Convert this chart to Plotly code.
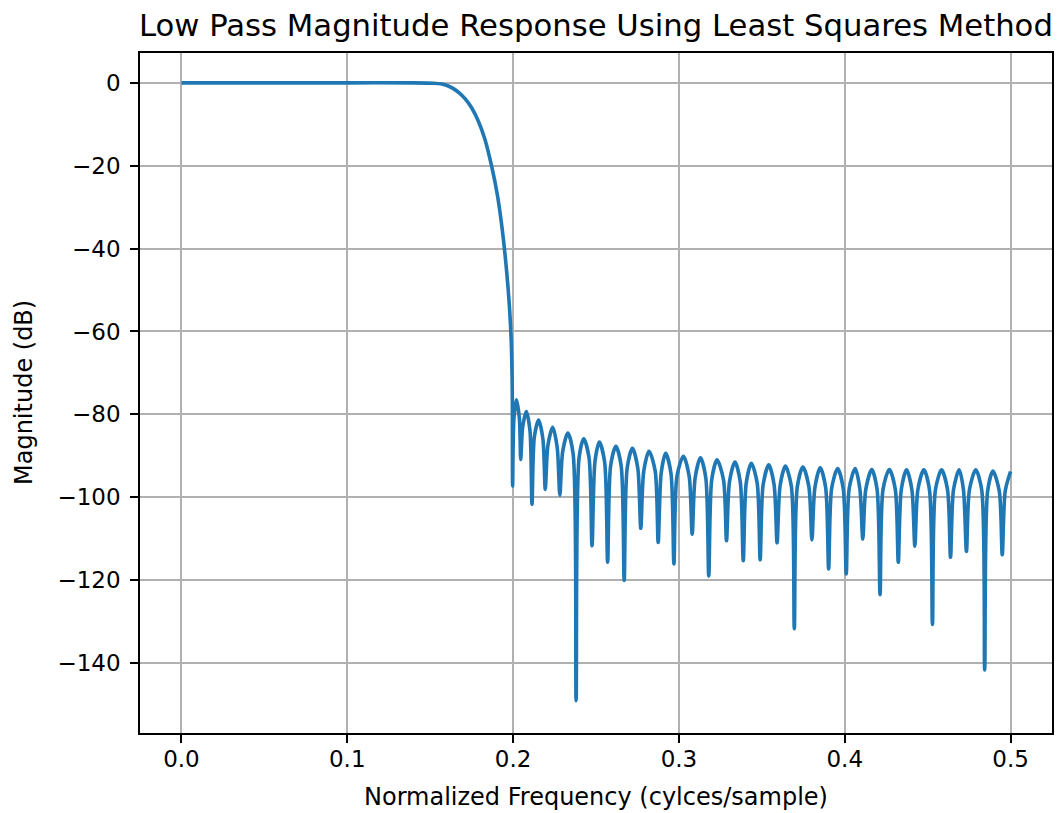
import plotly.graph_objects as go

# Passband and transition band of the low-pass response
pass_freq = [0.0, 0.05, 0.1, 0.14, 0.152, 0.157, 0.1605, 0.164, 0.1675,
             0.171, 0.175, 0.179, 0.183, 0.187, 0.1905, 0.1935, 0.196,
             0.1978, 0.1989, 0.1995]
pass_db = [0.0, 0.0, 0.0, 0.0, -0.1, -0.3, -0.7, -1.4, -2.4,
           -3.8, -6.0, -9.2, -13.6, -20.0, -27.0, -35.5, -45.0,
           -54.0, -62.5, -74.0]

# Stopband nulls
null_freq = [0.1997, 0.2046, 0.2114, 0.2194, 0.2282, 0.238, 0.2476, 0.257,
             0.267, 0.277, 0.2875, 0.297, 0.308, 0.318, 0.3287, 0.3388,
             0.349, 0.3592, 0.3696, 0.3802, 0.3903, 0.4009, 0.4109, 0.4213,
             0.4323, 0.4423, 0.4529, 0.4638, 0.4734, 0.4844, 0.495]
null_db = [-97.3, -90.9, -101.7, -98.1, -99.5, -149.1, -111.7, -115.7,
           -120.1, -107.5, -110.9, -116.1, -108.9, -119.0, -110.5, -115.3,
           -115.1, -111.0, -131.7, -110.3, -117.3, -118.5, -110.1, -123.5,
           -115.7, -111.8, -130.7, -114.5, -113.1, -141.7, -113.9]

# Sidelobe peaks (one between each pair of nulls, plus the edge at 0.5)
peak_freq = [0.202, 0.208, 0.2154, 0.2239, 0.233, 0.2426, 0.252, 0.262,
             0.272, 0.282, 0.292, 0.3027, 0.313, 0.323, 0.3338, 0.3437,
             0.3542, 0.3642, 0.3748, 0.3852, 0.3957, 0.4063, 0.4163, 0.4269,
             0.4373, 0.4477, 0.4584, 0.469, 0.479, 0.4894, 0.5]
peak_db = [-76.5, -79.3, -81.4, -83.1, -84.5, -85.9, -86.7, -87.7,
           -88.2, -88.9, -89.4, -90.1, -90.5, -91.0, -91.5, -91.8,
           -92.2, -92.5, -92.7, -92.9, -93.1, -93.1, -93.3, -93.3,
           -93.4, -93.4, -93.4, -93.4, -93.4, -93.7, -93.8]

# Lobe shoulders: rising edge just after each null, falling edge just before the next
rise_freq = [0.2005, 0.2058, 0.2128, 0.221, 0.2299, 0.2398, 0.2494, 0.2588,
             0.2688, 0.2788, 0.2893, 0.2988, 0.3098, 0.3198, 0.3305, 0.3406,
             0.3508, 0.361, 0.3714, 0.382, 0.3921, 0.4027, 0.4127, 0.4231,
             0.4341, 0.4441, 0.4547, 0.4656, 0.4752, 0.4862, 0.4968]
rise_db = [-81.0, -83.0, -85.5, -87.5, -89.0, -90.5, -91.3, -92.5,
           -93.0, -93.7, -94.2, -95.0, -95.3, -95.8, -96.3, -96.6,
           -97.0, -97.3, -97.5, -97.7, -97.9, -97.9, -98.1, -98.1,
           -98.2, -98.2, -98.2, -98.2, -98.2, -98.5, -98.5]
fall_freq = [0.2038, 0.2102, 0.218, 0.2266, 0.2362, 0.2458, 0.2552, 0.2652,
             0.2752, 0.2857, 0.2952, 0.3062, 0.3162, 0.3269, 0.337, 0.3472,
             0.3574, 0.3678, 0.3784, 0.3885, 0.3991, 0.4091, 0.4195, 0.4305,
             0.4405, 0.4511, 0.462, 0.4716, 0.4826, 0.4932]
fall_db = [-81.0, -84.0, -86.0, -88.0, -89.5, -90.5, -91.5, -92.5,
           -93.0, -93.7, -94.2, -95.0, -95.3, -95.8, -96.3, -96.6,
           -97.0, -97.3, -97.5, -97.7, -97.9, -97.9, -98.1, -98.1,
           -98.2, -98.2, -98.2, -98.2, -98.2, -98.5]

x_ticks = [0.0, 0.1, 0.2, 0.3, 0.4, 0.5]
x_tick_text = ["0.0", "0.1", "0.2", "0.3", "0.4", "0.5"]
y_ticks = [0, -20, -40, -60, -80, -100, -120, -140]
y_tick_text = ["0", "\u221220", "\u221240", "\u221260", "\u221280",
               "\u2212100", "\u2212120", "\u2212140"]

# Walk the stopband lobe by lobe: null -> rising shoulder -> peak -> falling shoulder
freq = list(pass_freq)
mag = list(pass_db)
for i in range(len(null_freq)):
    freq += [null_freq[i], rise_freq[i], peak_freq[i]]
    mag += [null_db[i], rise_db[i], peak_db[i]]
    if i < len(fall_freq):
        freq.append(fall_freq[i])
        mag.append(fall_db[i])

FONT = "DejaVu Sans"

fig = go.Figure()
fig.add_trace(go.Scatter(
    x=freq, y=mag, mode="lines",
    line=dict(color="#1f77b4", width=3.6, shape="spline", smoothing=0.8),
    showlegend=False, hoverinfo="x+y",
))

axis_common = dict(
    showline=True, linecolor="black", linewidth=1.6, mirror=True,
    ticks="outside", ticklen=8, tickwidth=1.6, tickcolor="black",
    showgrid=True, gridcolor="#b0b0b0", gridwidth=1.6,
    zeroline=False, tickfont=dict(family=FONT, size=23, color="black"),
)

fig.update_xaxes(range=[-0.025, 0.525], tickmode="array",
                 tickvals=x_ticks, ticktext=x_tick_text,
                 ticklabelstandoff=-3, **axis_common)
fig.update_yaxes(range=[-156.9, 7.2], tickmode="array",
                 tickvals=y_ticks, ticktext=y_tick_text,
                 ticklabelstandoff=5, **axis_common)

fig.update_layout(
    width=1057, height=813,
    margin=dict(l=140, r=3, t=53, b=80),
    plot_bgcolor="white", paper_bgcolor="white",
    font=dict(family=FONT, color="black"),
    annotations=[
        dict(text="Low Pass Magnitude Response Using Least Squares Method",
             xref="paper", yref="paper", x=0.5, y=1, yshift=28,
             xanchor="center", yanchor="middle", showarrow=False,
             font=dict(family=FONT, size=30.7, color="black")),
        dict(text="Normalized Frequency (cylces/sample)",
             xref="paper", yref="paper", x=0.5, y=0, yshift=-64,
             xanchor="center", yanchor="middle", showarrow=False,
             font=dict(family=FONT, size=24, color="black")),
        dict(text="Magnitude (dB)",
             xref="paper", yref="paper", x=0, y=0.5, xshift=-116,
             xanchor="center", yanchor="middle", showarrow=False,
             textangle=-90,
             font=dict(family=FONT, size=24, color="black")),
    ],
)

fig.write_html("out.html")
